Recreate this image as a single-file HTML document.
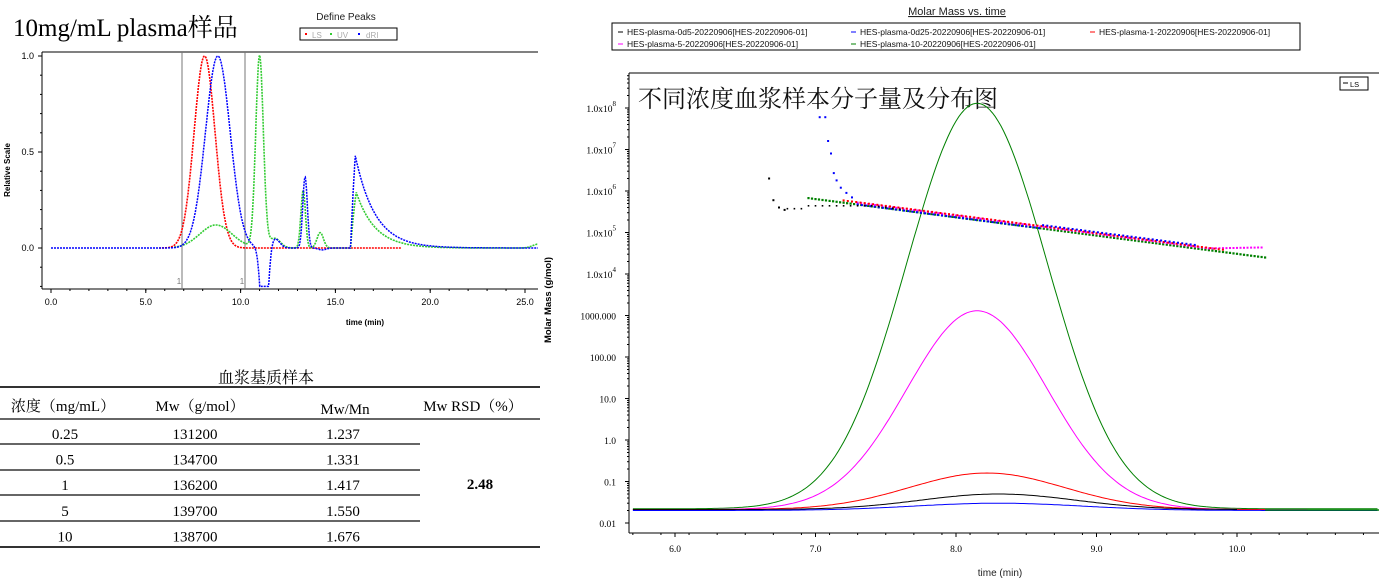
<!DOCTYPE html>
<html><head><meta charset="utf-8"><style>
body{margin:0;background:#fff;width:1382px;height:587px;overflow:hidden;position:relative;font-family:"Liberation Sans",sans-serif}
.s{font-family:"Liberation Serif","Noto Serif CJK SC",serif}
.t{position:absolute;white-space:nowrap}
</style></head><body>
<svg id="sv" width="1382" height="587" style="position:absolute;left:0;top:0" font-family="Liberation Sans, sans-serif"></svg>
<div class="t s" style="left:13px;top:8px;font-size:25px">10mg/mL plasma样品</div>
<script>
const S=document.getElementById('sv');let h='';
const L=(a,b,c,d,col,w)=>h+=`<line x1="${a}" y1="${b}" x2="${c}" y2="${d}" stroke="${col||'#000'}" stroke-width="${w||1}"/>`;
const T=(x,y,s,sz,anc,extra)=>h+=`<text x="${x}" y="${y}" font-size="${sz}" text-anchor="${anc||'start'}" ${extra||''}>${s}</text>`;
const G=(t,m,s)=>Math.exp(-(t-m)*(t-m)/(2*s*s));
// ---------- left chart ----------
const lx=t=>51+t*18.96, ly=v=>248-v*192;
T(346,20,'Define Peaks',10,'middle','fill="#222"');
h+=`<rect x="300" y="28" width="97" height="12" fill="none" stroke="#000"/>`;
h+=`<rect x="305" y="33" width="2" height="2" fill="red"/><text x="312" y="38" font-size="8" fill="#aaa">LS</text>`;
h+=`<rect x="330" y="33" width="2" height="2" fill="#3c3"/><text x="337" y="38" font-size="8" fill="#aaa">UV</text>`;
h+=`<rect x="358" y="33" width="2" height="2" fill="blue"/><text x="366" y="38" font-size="8" fill="#aaa">dRI</text>`;
L(42,52,538,52);L(42,52,42,289);L(42,289,538,289);
[[1,'1.0'],[0.5,'0.5'],[0,'0.0']].forEach(([v,s])=>{L(38,ly(v),42,ly(v));T(34,ly(v)+3,s,9,'end')});
for(let v=-0.2;v<=1.01;v+=0.1)L(40,ly(v),42,ly(v));
[0,5,10,15,20,25].forEach(t=>{L(lx(t),289,lx(t),293);T(lx(t),305,t.toFixed(1),9,'middle')});
for(let t=0;t<=25.5;t+=1)L(lx(t),289,lx(t),291);
T(365,325,'time (min)',8,'middle','font-weight="bold"');
T(10,170,'Relative Scale',8,'middle','font-weight="bold" transform="rotate(-90 10 170)"');
L(182,52,182,289,'#777');L(245,52,245,289,'#777');
T(179,284,'1',8,'middle','fill="#777"');T(242,284,'1',8,'middle','fill="#777"');
function pl(f,a,b,col,w){let p=[];for(let t=a;t<=b;t+=0.03)p.push(lx(t).toFixed(1)+','+ly(Math.max(-0.2,f(t))).toFixed(1));h+=`<polyline points="${p.join(' ')}" fill="none" stroke="${col}" stroke-width="${w||1.6}" stroke-dasharray="2 1"/>`;}
pl(t=>G(t,8.1,0.55),5.7,18.5,'red');
pl(t=>0.12*G(t,8.7,0.85)+1.0*G(t,11.0,0.2)+0.05*G(t,11.8,0.3)+0.3*G(t,13.3,0.12)+0.08*G(t,14.2,0.17)+(t>15.8?0.29*Math.exp(-(t-16.1)/1.0)*(t<16.1?Math.max(0,(t-15.8)/0.3):1):0)+0.02*G(t,25.7,0.3),6.5,25.7,'#3c3');
pl(t=>G(t,8.8,0.65)-0.5*G(t,11.25,0.18)+0.05*G(t,11.8,0.25)+0.37*G(t,13.4,0.12)-0.01*G(t,14.3,0.2)+(t>15.8?0.48*Math.exp(-(t-16.05)/1.05)*(t<16.05?Math.max(0,(t-15.8)/0.25):1):0),0,25.7,'blue',1.5);
// ---------- table ----------
T(266,383,'血浆基质样本',16,'middle','font-family="Liberation Serif, Noto Serif CJK SC, serif"');
L(0,387,540,387,'#333',2);L(0,419,540,419,'#333',1.5);
[444,470,495,521].forEach(y=>L(0,y,420,y,'#333',1.5));L(0,547,540,547,'#333',2);
const tf='font-family="Liberation Serif, Noto Serif CJK SC, serif"';
T(63,411,'浓度（mg/mL）',15,'middle',tf);T(200,411,'Mw（g/mol）',15,'middle',tf);T(345,414,'Mw/Mn',15,'middle',tf);T(473,411,'Mw RSD（%）',15,'middle',tf);
[['0.25','131200','1.237'],['0.5','134700','1.331'],['1','136200','1.417'],['5','139700','1.550'],['10','138700','1.676']].forEach((r,i)=>{const y=439+i*25.6;T(65,y,r[0],15,'middle',tf);T(195,y,r[1],15,'middle',tf);T(343,y,r[2],15,'middle',tf);});
T(480,489,'2.48',15,'middle',tf+' font-weight="bold"');
// ---------- right chart ----------
const rx=t=>675+(t-6)*140.5, ry=v=>523-(Math.log10(v)+2)*41.5;
T(957,15,'Molar Mass vs. time',11,'middle','text-decoration="underline" fill="#222"');
h+=`<rect x="612" y="23" width="688" height="27" fill="none" stroke="#000"/>`;
[[618,35,'#000','HES-plasma-0d5-20220906[HES-20220906-01]'],[851,35,'blue','HES-plasma-0d25-20220906[HES-20220906-01]'],[1090,35,'red','HES-plasma-1-20220906[HES-20220906-01]'],[618,47,'magenta','HES-plasma-5-20220906[HES-20220906-01]'],[851,47,'green','HES-plasma-10-20220906[HES-20220906-01]']].forEach(([x,y,c,s])=>{L(x,y-3,x+5,y-3,c);T(x+9,y,s,8.5,'start','fill="#111"')});
L(629,73,1379,73);L(629,73,629,533);L(629,533,1379,533);
h+=`<rect x="1340" y="77" width="28" height="13" fill="none" stroke="#000"/>`;L(1343,83,1348,83);T(1350,87,'LS',7.5);
h+=`<text x="638" y="107" font-size="24" font-family="Noto Serif CJK SC, serif" fill="#111">不同浓度血浆样本分子量及分布图</text>`;
const labs=['0.01','0.1','1.0','10.0','100.00','1000.000','1.0x10<tspan dy="-6" font-size="7">4</tspan>','1.0x10<tspan dy="-6" font-size="7">5</tspan>','1.0x10<tspan dy="-6" font-size="7">6</tspan>','1.0x10<tspan dy="-6" font-size="7">7</tspan>','1.0x10<tspan dy="-6" font-size="7">8</tspan>'];
labs.forEach((s,i)=>{const y=ry(Math.pow(10,i-2));L(625,y,629,y);for(let k=2;k<10;k++){const yy=ry(Math.pow(10,i-2)*k);if(yy>75)L(627,yy,629,yy);}T(616,y+4,s,9.5,'end',tf)});
[6,7,8,9,10].forEach(t=>{L(rx(t),533,rx(t),537);T(rx(t),552,t.toFixed(1),9.5,'middle',tf)});
for(let t=5.7;t<11;t+=0.2)L(rx(t),533,rx(t),535);
T(1000,576,'time (min)',10,'middle','fill="#222"');
T(551,300,'Molar Mass (g/mol)',9.5,'middle','font-weight="bold" transform="rotate(-90 551 300)"');
function lc(pk,m,s,base,col,a,b){let p=[];const lb=Math.log10(base);for(let t=a;t<=b;t+=0.02){const v=lb+(Math.log10(pk)-lb)*G(t,m,s);p.push(rx(t).toFixed(1)+','+ry(Math.pow(10,v)).toFixed(1))}h+=`<polyline points="${p.join(' ')}" fill="none" stroke="${col}" stroke-width="1"/>`;}
lc(1.3e8,8.15,0.5,0.022,'green',5.7,11);
lc(1300,8.15,0.5,0.021,'magenta',5.7,10.5);
lc(0.16,8.22,0.55,0.021,'red',5.7,10.2);
lc(0.05,8.3,0.55,0.021,'black',5.7,10);
lc(0.03,8.3,0.6,0.020,'blue',5.7,11);
L(rx(10.2),ry(0.0205),1379,ry(0.0205),'green',1.5);
function dots(a,b,f,col,st,sz){for(let t=a;t<=b;t+=st){h+=`<rect x="${(rx(t)-sz/2).toFixed(1)}" y="${(ry(f(t))-sz/2).toFixed(1)}" width="${sz}" height="${sz}" fill="${col}"/>`}}
const mm=t=>Math.pow(10,5.85-(t-6.95)*0.44);
dots(6.95,10.22,t=>mm(t)*0.95,'green',0.025,2.2);
dots(7.3,10.2,t=>mm(t)*1.05*(t>9.8?Math.pow(10,(t-9.8)*0.5):1),'magenta',0.025,2);
dots(7.2,9.9,t=>mm(t)*1.08,'red',0.03,2);
dots(7.3,9.7,t=>mm(t)*(t>8.6?1.15:0.95),'blue',0.03,2);
dots(6.8,7.6,t=>Math.min(mm(t),4.4e5)*(t<6.9?0.85:1),'black',0.05,1.6);
[[6.67,2e6],[6.7,6e5],[6.74,4e5],[6.78,3.5e5]].forEach(([t,v])=>dots(t,t,()=>v,'black',1,2));
[[7.03,6e7],[7.07,6e7],[7.09,1.6e7],[7.11,8e6],[7.13,2.7e6],[7.15,1.8e6],[7.18,1.2e6],[7.22,9e5],[7.26,7e5]].forEach(([t,v])=>dots(t,t,()=>v,'blue',1,2));
S.innerHTML=h;
</script>
</body></html>
